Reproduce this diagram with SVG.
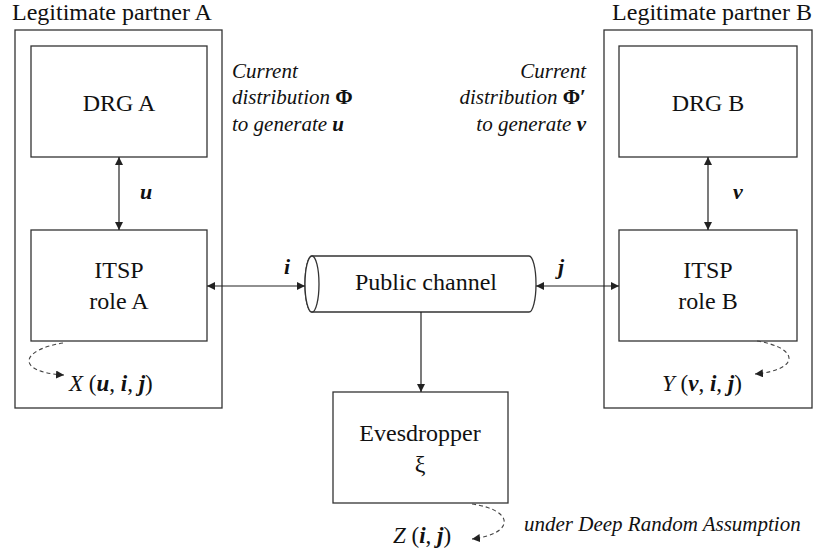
<svg xmlns="http://www.w3.org/2000/svg" width="825" height="554" viewBox="0 0 825 554">
<style>
.box{fill:#fff;stroke:#333;stroke-width:1.3}
.t{font-family:Liberation Serif,Tinos,Times New Roman,Times,Noto Serif,DejaVu Serif,serif;fill:#111}
.n{font-size:24px;text-anchor:middle}
.h{font-size:24px}
.it{font-style:italic;font-size:21px}
.m{font-style:italic;font-weight:bold;font-size:22px}
.ln{stroke:#222;stroke-width:1.2;fill:none}
.ds{stroke:#444;stroke-width:1.1;fill:none;stroke-dasharray:4 3}
</style>
<defs>
<marker id="ah" viewBox="0 0 10 10" refX="10" refY="5" markerWidth="8" markerHeight="8" markerUnits="userSpaceOnUse" orient="auto-start-reverse">
<path d="M0,0 L10,5 L0,10 z" fill="#222"/>
</marker>
</defs>
<rect width="825" height="554" fill="#fff"/>

<g id="partnerA">
<rect class="box" x="15" y="30" width="207" height="378"/>
<text class="t h" x="12" y="20">Legitimate partner A</text>
</g>
<g id="partnerB">
<rect class="box" x="604" y="30" width="208" height="378"/>
<text class="t h" x="812" y="20" text-anchor="end">Legitimate partner B</text>
</g>
<g id="drgA">
<rect class="box" x="31" y="46" width="176" height="111"/>
<text class="t n" x="119" y="111">DRG A</text>
</g>
<g id="itspA">
<rect class="box" x="31" y="230" width="176" height="111"/>
<text class="t n" x="119" y="278">ITSP</text>
<text class="t n" x="119" y="309">role A</text>
</g>
<g id="drgB">
<rect class="box" x="619" y="46" width="178" height="111"/>
<text class="t n" x="708" y="111">DRG B</text>
</g>
<g id="itspB">
<rect class="box" x="619" y="230" width="178" height="111"/>
<text class="t n" x="708" y="278">ITSP</text>
<text class="t n" x="708" y="309">role B</text>
</g>
<g id="channel">
<path class="box" d="M312,256 L529,256 A7,28 0 0 1 529,312 L312,312 A7,28 0 0 1 312,256 z"/>
<ellipse class="box" cx="312" cy="284" rx="7" ry="28"/>
<text class="t n" x="426" y="290">Public channel</text>
</g>
<g id="eve">
<rect class="box" x="333" y="392" width="175" height="111"/>
<text class="t n" x="420" y="441">Evesdropper</text>
<text class="t n" x="420" y="472">ξ</text>
</g>

<g id="connectors">
<line class="ln" x1="119" y1="157" x2="119" y2="230" marker-start="url(#ah)" marker-end="url(#ah)"/>
<line class="ln" x1="708" y1="157" x2="708" y2="230" marker-start="url(#ah)" marker-end="url(#ah)"/>
<line class="ln" x1="207" y1="286" x2="305" y2="286" marker-start="url(#ah)" marker-end="url(#ah)"/>
<line class="ln" x1="536" y1="286" x2="619" y2="286" marker-start="url(#ah)" marker-end="url(#ah)"/>
<line class="ln" x1="421" y1="312" x2="421" y2="392" marker-end="url(#ah)"/>
<path class="ds" d="M63,343 C20,350 15,372 64,375" marker-end="url(#ah)"/>
<path class="ds" d="M757,341 C800,348 800,370 755,374" marker-end="url(#ah)"/>
<path class="ds" d="M472,504 C515,510 515,534 472,539" marker-end="url(#ah)"/>
</g>

<g id="labels">
<text class="t it" x="232" y="78">Current</text>
<text class="t it" x="232" y="104">distribution <tspan font-style="normal" font-weight="bold">Φ</tspan></text>
<text class="t it" x="232" y="131">to generate <tspan font-weight="bold">u</tspan></text>
<text class="t it" x="586" y="78" text-anchor="end">Current</text>
<text class="t it" x="586" y="104" text-anchor="end">distribution <tspan font-style="normal" font-weight="bold">Φ′</tspan></text>
<text class="t it" x="586" y="131" text-anchor="end">to generate <tspan font-weight="bold">v</tspan></text>
<text class="t m" x="140" y="199">u</text>
<text class="t m" x="733" y="199">v</text>
<text class="t m" x="284" y="274">i</text>
<text class="t m" x="558" y="274">j</text>
<text class="t" x="69" y="391" font-size="23"><tspan font-style="italic">X</tspan> (<tspan font-style="italic" font-weight="bold">u</tspan>, <tspan font-style="italic" font-weight="bold">i</tspan>, <tspan font-style="italic" font-weight="bold">j</tspan>)</text>
<text class="t" x="662" y="391" font-size="23"><tspan font-style="italic">Y</tspan> (<tspan font-style="italic" font-weight="bold">v</tspan>, <tspan font-style="italic" font-weight="bold">i</tspan>, <tspan font-style="italic" font-weight="bold">j</tspan>)</text>
<text class="t" x="393" y="543" font-size="23"><tspan font-style="italic">Z</tspan> (<tspan font-style="italic" font-weight="bold">i</tspan>, <tspan font-style="italic" font-weight="bold">j</tspan>)</text>
<text class="t it" x="524" y="531">under Deep Random Assumption</text>
</g>
</svg>
